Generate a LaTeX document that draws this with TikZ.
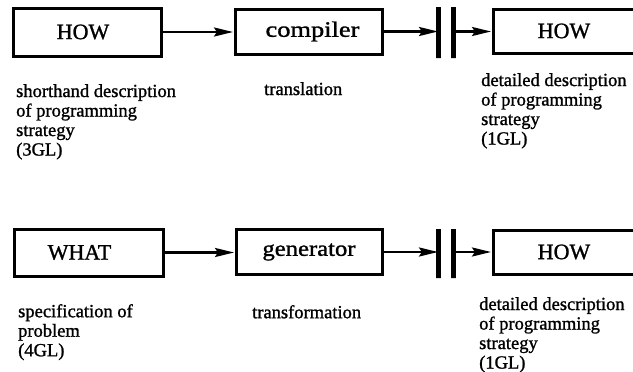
\documentclass[tikz,border=0pt]{standalone}
\usepackage{fontspec}
\setmainfont{Liberation Serif}[FakeBold=1.2]
\usetikzlibrary{arrows.meta}
\tikzset{
  box/.style={draw, line width=3pt, rectangle, inner sep=0pt, font=\fontsize{22}{24}\selectfont},
  bar/.style={draw, line width=5pt, inner sep=0pt, minimum width=0pt, outer sep=0pt},
  arr/.style={line width=2.4pt, -{Stealth[length=19pt,width=9pt,inset=3pt]}, shorten >=0.5pt},
  desc/.style={anchor=north west, align=left, inner sep=0pt, font=\fontsize{18.5}{19.5}\selectfont}
}
\begin{document}
\begin{tikzpicture}[x=1pt,y=-1pt]
\useasboundingbox[fill=white] (0,0) rectangle (633,372);
% top row
\node[box, minimum width=148pt, minimum height=48pt] (how1) at (87,32) {\hspace*{-8pt}HOW};
\node[box, minimum width=147pt, minimum height=45pt] (comp) at (308.5,31.5) {\hspace*{8pt}\scalebox{1.2}[1]{compiler}};
\node[bar, minimum height=51pt] (b1) at (438.5,32.5) {};
\node[bar, minimum height=51pt] (b2) at (453,32.5) {};
\node[box, minimum width=164pt, minimum height=44pt] (how2) at (575,31) {\hspace*{-22pt}HOW};
\draw[arr] (how1.east) -- (comp.west |- how1.east);
\draw[arr] (comp.east) -- (b1.west |- comp.east);
\draw[arr] (b2.east |- comp.east) -- (how2.west |- comp.east);
\node[desc] (d1) at (16,84) {shorthand description\\of programming\\strategy\\(3GL)};
\node[desc] (d2) at (264,82) {translation};
\node[desc] (d3) at (481,73) {detailed description\\of programming\\strategy\\(1GL)};
% bottom row
\node[box, minimum width=149pt, minimum height=47pt] (what) at (88.5,252.5) {\hspace*{-18pt}WHAT};
\node[box, minimum width=146pt, minimum height=45pt] (gen) at (309,252) {\scalebox{1.12}[1]{generator}};
\node[bar, minimum height=49pt] (b3) at (438.5,253.5) {};
\node[bar, minimum height=49pt] (b4) at (453,253.5) {};
\node[box, minimum width=164pt, minimum height=44pt] (how3) at (575,252) {\hspace*{-22pt}HOW};
\draw[arr] (what.east) -- (gen.west |- what.east);
\draw[arr] (gen.east) -- (b3.west |- gen.east);
\draw[arr] (b4.east |- gen.east) -- (how3.west |- gen.east);
\node[desc] (d4) at (18,304) {specification of\\problem\\(4GL)};
\node[desc] (d5) at (252,305) {transformation};
\node[desc] (d6) at (479,297) {detailed description\\of programming\\strategy\\(1GL)};
\end{tikzpicture}
\end{document}
